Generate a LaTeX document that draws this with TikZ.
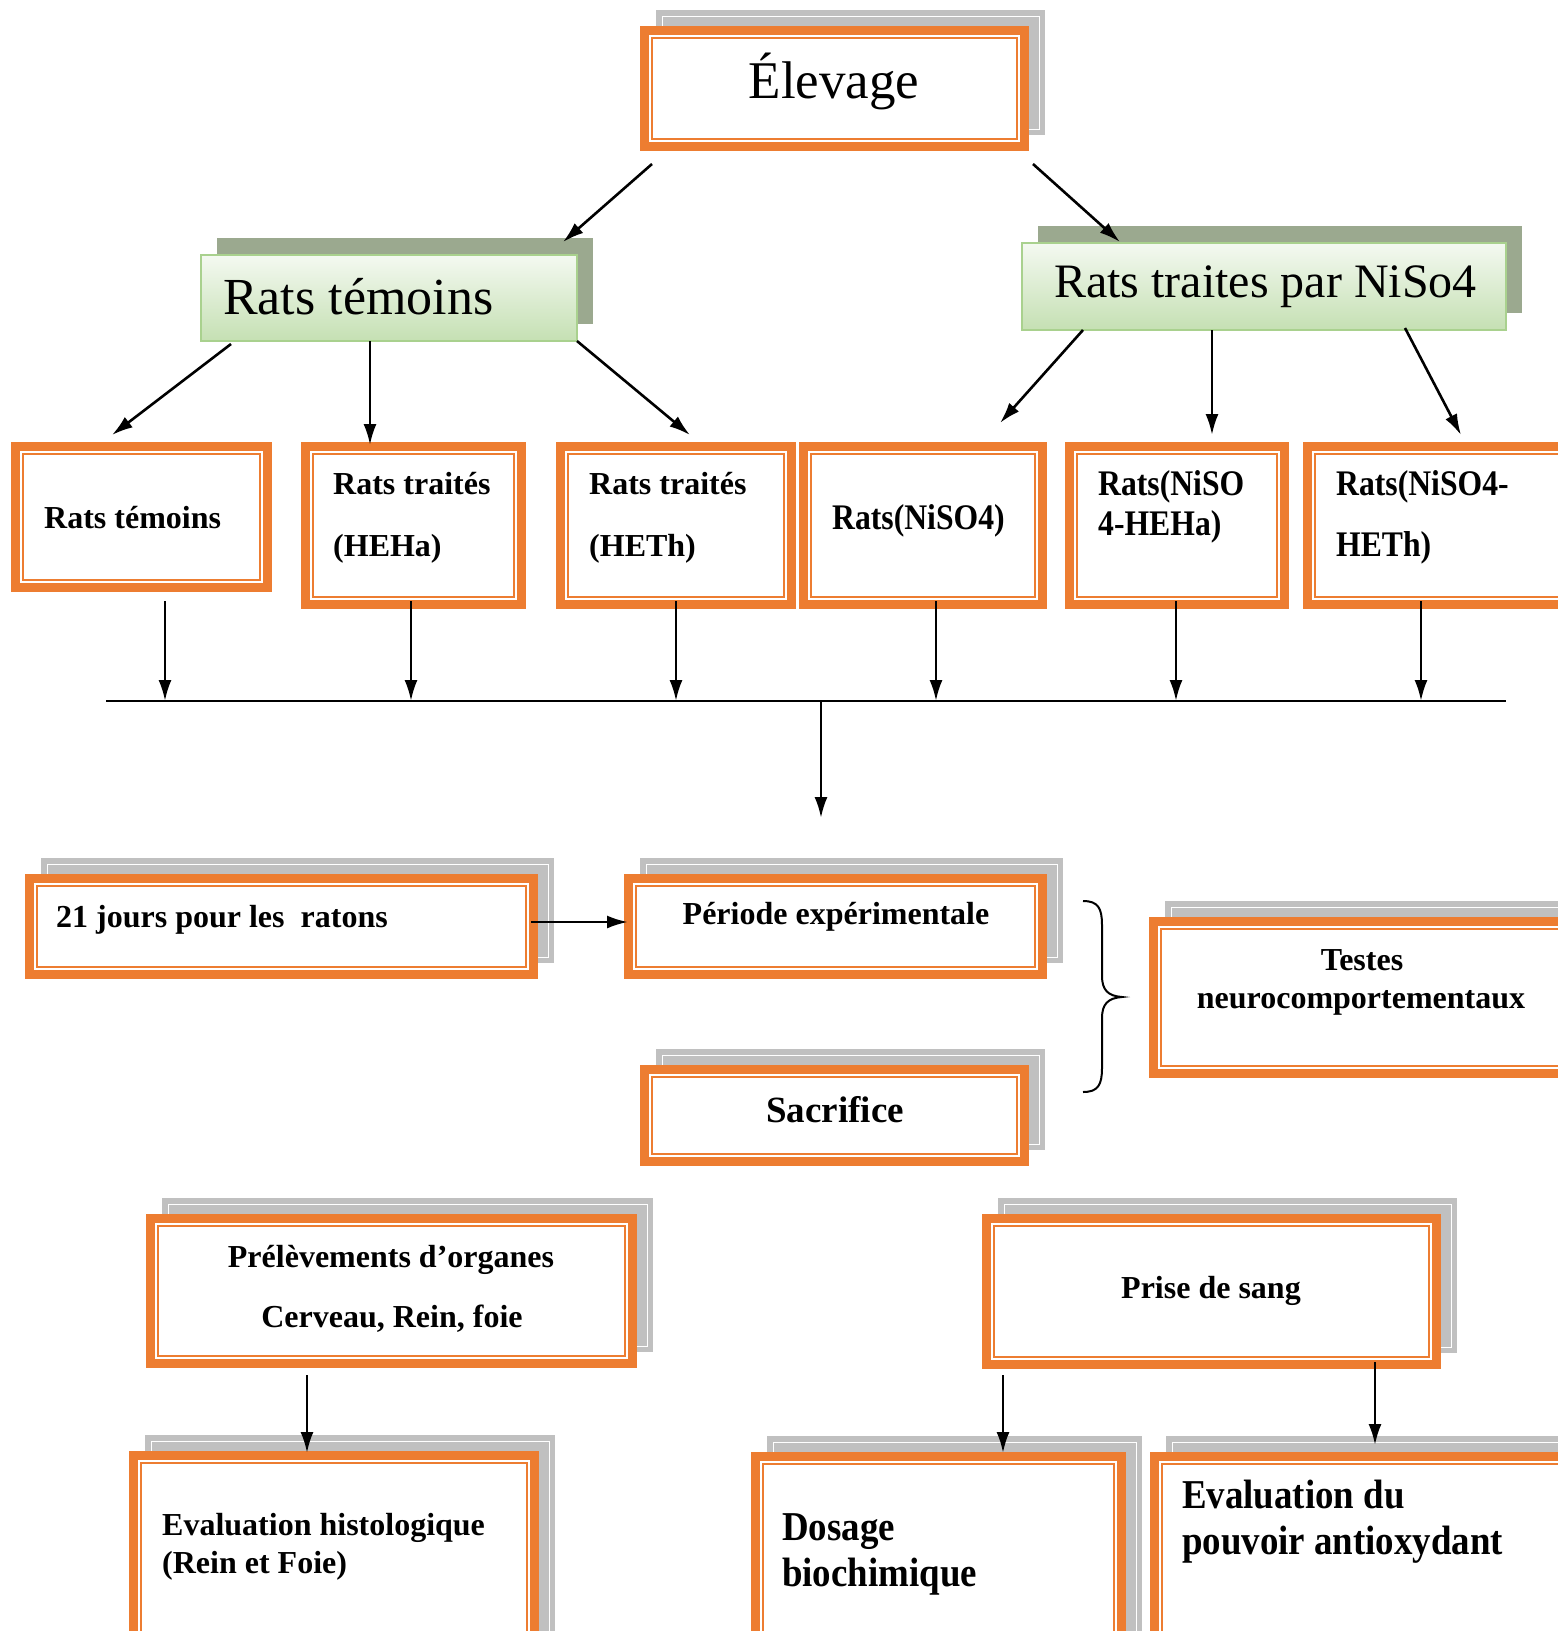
\documentclass[tikz,border=0pt]{standalone}
\usepackage{fontspec}
\setmainfont{Liberation Serif}
\usepackage{graphicx}
\usetikzlibrary{arrows.meta,fit}
\definecolor{orng}{HTML}{ED7D31}
\definecolor{shgray}{HTML}{C0C0C0}
\definecolor{gshadow}{HTML}{9BA98F}
\definecolor{gborder}{HTML}{A9D18E}
\definecolor{gtop}{HTML}{F4F9F1}
\definecolor{gbot}{HTML}{C5E0B3}
\newcommand{\fs}[1]{\fontsize{#1}{#1}\selectfont}
\newcommand{\cond}[1]{\scalebox{0.88}[1]{#1}}
% orange double-frame box, no shadow
\newcommand{\obox}[5]{%
  \fill[orng] (#2,#3) rectangle (#4,#5);
  \fill[white] (#2+9,#3+9) rectangle (#4-9,#5-9);
  \draw[orng,line width=2pt] (#2+12,#3+12) rectangle (#4-12,#5-12);
  \node[inner sep=0pt,fit={(#2,#3) (#4,#5)}] (#1) {};}
% orange double-frame box with gray shadow
\newcommand{\oboxs}[5]{%
  \fill[shgray] (#2+16,#3-16) rectangle (#4+16,#5-16);
  \draw[white,line width=1pt] (#2+22,#3-10) rectangle (#4+10,#5-22);
  \obox{#1}{#2}{#3}{#4}{#5}}
% green gradient box with shadow
\newcommand{\gbox}[5]{%
  \fill[gshadow] (#2+16,#3-17) rectangle (#4+16,#5-17);
  \shade[top color=gtop,bottom color=gbot] (#2,#3) rectangle (#4,#5);
  \draw[gborder,line width=2.5pt] (#2,#3) rectangle (#4,#5);
  \node[inner sep=0pt,fit={(#2,#3) (#4,#5)}] (#1) {};}
\begin{document}
\begin{tikzpicture}[x=1pt,y=-1pt,
  arr/.style={line width=2.6pt,-{Latex[length=21pt,width=13pt]}},
  lbl/.style={inner sep=0pt,font=\bfseries\fs{32}},
  big/.style={inner sep=0pt},
  link/.style={line width=2.6pt}]
\useasboundingbox (0,0) rectangle (1558,1631);
\clip (0,0) rectangle (1558,1631);

% ---------- top ----------
\oboxs{elev}{640}{26}{1029}{151}
\node[big,anchor=base] (telev) at (834,98) {\fs{53}Élevage};

\gbox{gtem}{201}{255}{577}{341}
\node[big,anchor=base west] (tgtem) at (223,314) {\fs{52}Rats témoins};
\gbox{gnis}{1022}{243}{1506}{330}
\node[big,anchor=base west] (tgnis) at (1054,297) {\fs{48}Rats traites par NiSo4};

% ---------- row of groups ----------
\obox{b1}{11}{442}{272}{592}
\obox{b2}{301}{442}{526}{609}
\obox{b3}{556}{442}{796}{609}
\obox{b4}{799}{442}{1047}{609}
\obox{b5}{1065}{442}{1289}{609}
\obox{b6}{1303}{442}{1580}{609}
\node[lbl,anchor=base west] (t1) at (44,528) {Rats témoins};
\node[lbl,anchor=base west] (t2a) at (333,494) {Rats traités};
\node[lbl,anchor=base west] (t2b) at (333,556) {(HEHa)};
\node[lbl,anchor=base west] (t3a) at (589,494) {Rats traités};
\node[lbl,anchor=base west] (t3b) at (589,556) {(HETh)};
\node[lbl,anchor=base west,font=\bfseries\fs{36}] (t4) at (832,529) {\cond{Rats(NiSO4)}};
\node[lbl,anchor=base west,font=\bfseries\fs{36}] (t5a) at (1098,495) {\cond{Rats(NiSO}};
\node[lbl,anchor=base west,font=\bfseries\fs{36}] (t5b) at (1098,535) {\cond{4-HEHa)}};
\node[lbl,anchor=base west,font=\bfseries\fs{36}] (t6a) at (1336,495) {\cond{Rats(NiSO4-}};
\node[lbl,anchor=base west,font=\bfseries\fs{36}] (t6b) at (1336,556) {\cond{HETh)}};

% arrows top
\coordinate (e1) at (652,164); \coordinate (e2) at (563,242);
\coordinate (e3) at (1033,164); \coordinate (e4) at (1120,242);
\draw[arr] (e1) -- (e2);
\draw[arr] (e3) -- (e4);
\coordinate (g1) at (231,344); \coordinate (g1e) at (112,435);
\coordinate (g2) at (370,341); \coordinate (g2e) at (370,445);
\coordinate (g3) at (577,341); \coordinate (g3e) at (690,435);
\coordinate (g4) at (1083,330); \coordinate (g4e) at (1000,423);
\coordinate (g5) at (1212,330); \coordinate (g5e) at (1212,435);
\coordinate (g6) at (1405,328); \coordinate (g6e) at (1461,435);
\draw[arr] (g1) -- (g1e);
\draw[arr] (g2) -- (g2e);
\draw[arr] (g3) -- (g3e);
\draw[arr] (g4) -- (g4e);
\draw[arr] (g5) -- (g5e);
\draw[arr] (g6) -- (g6e);

% collector line
\coordinate (hl) at (106,701); \coordinate (hr) at (1506,701);
\draw[link] (hl) -- (hr);
\foreach \i/\x in {1/165,2/411,3/676,4/936,5/1176,6/1421}{
  \coordinate (d\i) at (\x,601); \coordinate (d\i e) at (\x,701);
  \draw[arr] (d\i) -- (d\i e);}
\coordinate (hm) at (821,701); \coordinate (hme) at (821,818);
\draw[arr] (hm) -- (hme);

% ---------- middle ----------
\oboxs{j21}{25}{874}{538}{979}
\node[lbl,anchor=base west] (tj21) at (56,927) {21 jours pour les\ \ ratons};
\oboxs{per}{624}{874}{1047}{979}
\node[lbl,anchor=base] (tper) at (836,924) {Période expérimentale};
\coordinate (j21a) at (531,922); \coordinate (pera) at (628,922);
\draw[arr] (j21a) -- (pera);

\oboxs{sac}{640}{1065}{1029}{1166}
\node[lbl,anchor=base,font=\bfseries\fs{37}] (tsac) at (835,1122) {Sacrifice};

\oboxs{test}{1149}{917}{1580}{1078}
\node[lbl,anchor=base] (ttesta) at (1362,970) {Testes};
\node[lbl,anchor=base] (ttestb) at (1361,1008) {neurocomportementaux};

% brace
\draw[line width=2pt] (1083,901) .. controls (1098,901) and (1102,908) .. (1102,925)
  -- (1102,976) .. controls (1102,990) and (1108,996) .. (1122,997)
  .. controls (1108,998) and (1102,1004) .. (1102,1018)
  -- (1102,1068) .. controls (1102,1085) and (1098,1092) .. (1083,1092);

% ---------- bottom ----------
\oboxs{pre}{146}{1214}{637}{1368}
\node[lbl,anchor=base] (tprea) at (391,1267) {Prélèvements d’organes};
\node[lbl,anchor=base] (tpreb) at (392,1327) {Cerveau, Rein, foie};
\oboxs{sang}{982}{1214}{1441}{1369}
\node[lbl,anchor=base] (tsang) at (1211,1298) {Prise de sang};

\oboxs{hist}{129}{1451}{539}{1660}
\node[lbl,anchor=base west] (thista) at (162,1535) {Evaluation histologique};
\node[lbl,anchor=base west] (thistb) at (162,1573) {(Rein et Foie)};
\oboxs{dos}{751}{1452}{1126}{1660}
\node[lbl,anchor=base west,font=\bfseries\fs{41}] (tdosa) at (782,1540) {\scalebox{0.9}[1]{Dosage}};
\node[lbl,anchor=base west,font=\bfseries\fs{41}] (tdosb) at (782,1586) {\scalebox{0.9}[1]{biochimique}};
\oboxs{eval}{1150}{1452}{1580}{1660}
\node[lbl,anchor=base west,font=\bfseries\fs{41}] (tevala) at (1182,1508) {\scalebox{0.9}[1]{Evaluation du}};
\node[lbl,anchor=base west,font=\bfseries\fs{41}] (tevalb) at (1182,1554) {\scalebox{0.9}[1]{pouvoir antioxydant}};

\coordinate (p1) at (307,1375); \coordinate (p1e) at (307,1453);
\coordinate (s1) at (1003,1375); \coordinate (s1e) at (1003,1453);
\coordinate (s2) at (1375,1362); \coordinate (s2e) at (1375,1445);
\draw[arr] (p1) -- (p1e);
\draw[arr] (s1) -- (s1e);
\draw[arr] (s2) -- (s2e);
\end{tikzpicture}
\end{document}
